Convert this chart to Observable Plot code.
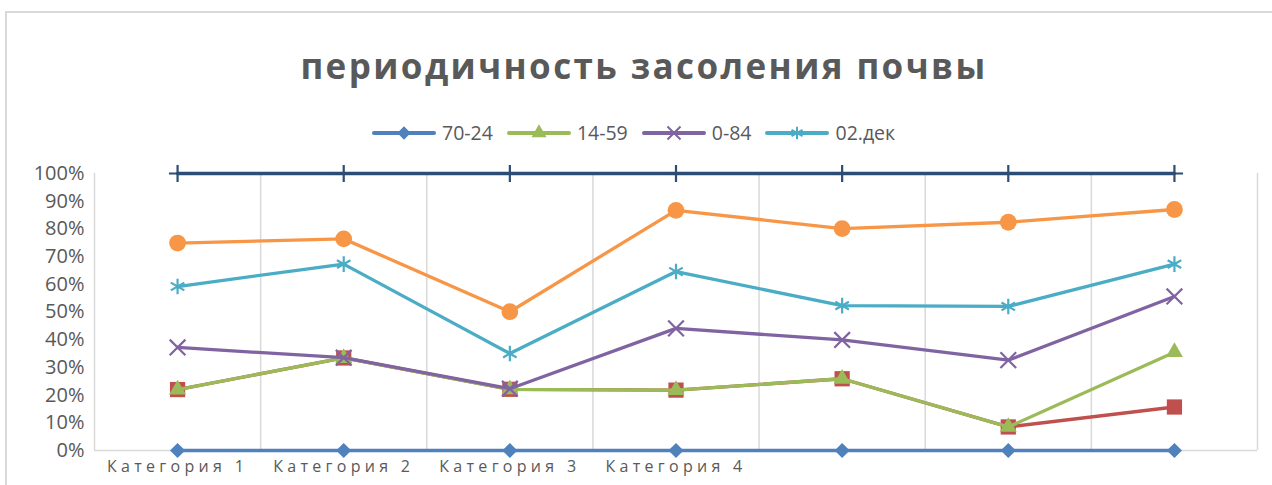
<!DOCTYPE html>
<html>
<head>
<meta charset="utf-8">
<script src="https://cdn.jsdelivr.net/npm/d3@7"></script>
<script src="https://cdn.jsdelivr.net/npm/@observablehq/plot@0.6"></script>
<style>
  html, body { margin: 0; padding: 0; background: #fff; }
  #wrap { position: relative; width: 1272px; height: 485px; overflow: hidden; font-family: "Open Sans", sans-serif; color: #595959; }
  #frame { position: absolute; left: 5px; top: 11px; width: 1400px; height: 600px; border-left: 2px solid #d9d9d9; border-top: 2px solid #d9d9d9; }
  #title { position: absolute; left: 0; width: 1272px; top: 44px; text-align: center; font-size: 35px; font-weight: 700; letter-spacing: 2.4px; line-height: 44px; padding-left: 16px; box-sizing: border-box; }
  #legend { position: absolute; left: 372px; top: 121px; display: flex; align-items: center; font-size: 19.5px; line-height: 24px; white-space: nowrap; }
  #legend .item { display: flex; align-items: center; margin-right: 14px; }
  #legend svg { display: block; margin-right: 6px; }
  #chart { position: absolute; left: 0; top: 150px; }
</style>
</head>
<body>
<div id="wrap">
  <div id="frame"></div>
  <div id="title"></div>
  <div id="legend"></div>
  <div id="chart"></div>
</div>
<script>
// ---- data ----
const titleText = "периодичность засоления почвы";
const categories = [1, 2, 3, 4, 5, 6, 7];
const categoryLabels = ["Категория 1", "Категория 2", "Категория 3", "Категория 4"];
const labelledCategories = [1, 2, 3, 4];
const yTicks = [0, 0.1, 0.2, 0.3, 0.4, 0.5, 0.6, 0.7, 0.8, 0.9, 1.0];
const bandEdges = [0.5, 1.5, 2.5, 3.5, 4.5, 5.5, 6.5, 7.5];

const seriesNames = ["70-24", "14-59", "0-84", "02.дек"];
const v_70_24  = [0, 0, 0, 0, 0, 0, 0];
const v_14_59  = [0.220, 0.334, 0.221, 0.218, 0.259, 0.085, 0.355];
const v_0_84   = [0.372, 0.335, 0.223, 0.441, 0.399, 0.326, 0.556];
const v_02dek  = [0.592, 0.673, 0.350, 0.646, 0.523, 0.520, 0.673];
const v_red    = [0.220, 0.334, 0.221, 0.218, 0.259, 0.085, 0.157];
const v_orange = [0.749, 0.764, 0.501, 0.867, 0.801, 0.824, 0.870];
const v_navy   = [1, 1, 1, 1, 1, 1, 1];

// ---- styling ----
const C = {
  blue: "#4f81bd", green: "#9bbb59", purple: "#8064a2", teal: "#4bacc6",
  red: "#c0504d", orange: "#f79646", navy: "#2c4d75", grid: "#d9d9d9"
};

const toRows = vals => categories.map((c, i) => ({x: c, y: vals[i]}));

const series = [
  {vals: v_navy,   color: C.navy,   symbol: "plus",     r: 5.6, stroke: true},
  {vals: v_orange, color: C.orange, symbol: "circle",   r: 8.4, stroke: false},
  {vals: v_02dek,  color: C.teal,   symbol: "asterisk", r: 7.4, stroke: true},
  {vals: v_red,    color: C.red,    symbol: "square",   r: 8.6, stroke: false},
  {vals: v_14_59,  color: C.green,  symbol: "triangle", r: 6.3, stroke: false},
  {vals: v_0_84,   color: C.purple, symbol: "times",    r: 7.2, stroke: true},
  {vals: v_70_24,  color: C.blue,   symbol: "diamond2", r: 6.8, stroke: false}
];

document.getElementById("title").textContent = titleText;

// ---- chart ----
const marks = [
  Plot.ruleX(bandEdges, {x: d => d, y1: 0, y2: 1, stroke: C.grid, strokeWidth: 1.5}),
  Plot.ruleY([0], {stroke: C.grid, strokeWidth: 1.5}),
  Plot.axisY({ticks: yTicks, tickFormat: d3.format(".0%"), tickSize: 0, tickPadding: 10, fontSize: 20, label: null}),
  Plot.axisX({ticks: labelledCategories, tickFormat: d => categoryLabels[d - 1], tickSize: 0, tickPadding: 10, fontSize: 16, label: null})
];
for (const s of series) {
  const rows = toRows(s.vals);
  marks.push(Plot.line(rows, {x: "x", y: "y", stroke: s.color, strokeWidth: 3.3, strokeLinejoin: "round", strokeLinecap: "round"}));
  marks.push(Plot.dot(rows, s.stroke
    ? {x: "x", y: "y", symbol: s.symbol, r: s.r, stroke: s.color, strokeWidth: 2.2}
    : {x: "x", y: "y", symbol: s.symbol, r: s.r, fill: s.color, stroke: "none"}));
}

const chart = Plot.plot({
  width: 1272,
  height: 335,
  marginLeft: 94,
  marginRight: 15,
  marginTop: 23,
  marginBottom: 35,
  style: {fontFamily: "Open Sans, sans-serif", color: "#595959", background: "transparent"},
  x: {type: "linear", domain: [0.5, 7.5]},
  y: {domain: [0, 1]},
  marks
});
d3.select(chart).selectAll('g[aria-label="x-axis tick label"] text').attr("letter-spacing", "4.3px");
document.getElementById("chart").appendChild(chart);

// ---- legend ----
const legendSeries = [
  {name: seriesNames[0], color: C.blue,   symbol: d3.symbolDiamond2, size: Math.PI * 6.0 * 6.0, stroke: false},
  {name: seriesNames[1], color: C.green,  symbol: d3.symbolTriangle, size: Math.PI * 5.6 * 5.6, stroke: false},
  {name: seriesNames[2], color: C.purple, symbol: d3.symbolTimes,    size: Math.PI * 6.0 * 6.0, stroke: true},
  {name: seriesNames[3], color: C.teal,   symbol: d3.symbolAsterisk, size: Math.PI * 6.0 * 6.0, stroke: true}
];
const legend = d3.select("#legend");
for (const s of legendSeries) {
  const item = legend.append("div").attr("class", "item");
  const svg = item.append("svg").attr("width", 64).attr("height", 24);
  svg.append("line").attr("x1", 2).attr("x2", 62).attr("y1", 12).attr("y2", 12)
    .attr("stroke", s.color).attr("stroke-width", 4).attr("stroke-linecap", "round");
  const p = svg.append("path").attr("transform", "translate(32,12)")
    .attr("d", d3.symbol(s.symbol, s.size)());
  if (s.stroke) p.attr("fill", "none").attr("stroke", s.color).attr("stroke-width", 2);
  else p.attr("fill", s.color);
  item.append("span").text(s.name);
}
</script>
</body>
</html>
